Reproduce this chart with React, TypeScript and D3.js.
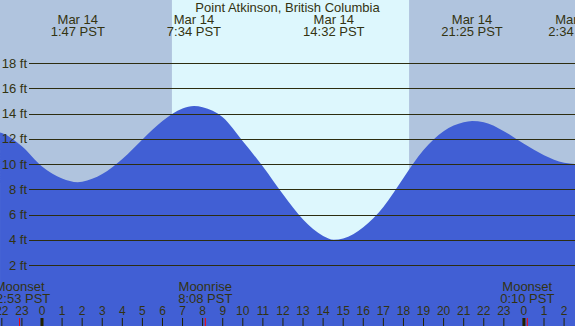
import React from "react";
import * as d3 from "d3";

const W = 575;
const H = 326;

const title = "Point Atkinson, British Columbia";

// tide heights (hours after Mar 14 00:00 PST, feet)
const tideHours = [-2.09, -2, -1, 0, 1, 1.78, 2, 3, 4, 5, 6, 7, 7.57, 8, 9, 10, 11, 12, 13, 14, 14.53, 15, 16, 17, 18, 19, 20, 21, 21.42, 22, 23, 24, 25, 26, 26.57];
const tideFeet = [12.5, 12.45, 11.4, 9.8, 8.85, 8.56, 8.6, 9.2, 10.4, 11.95, 13.4, 14.4, 14.6, 14.5, 13.7, 11.8, 9.8, 7.6, 5.6, 4.3, 4.0, 4.1, 5.0, 6.6, 8.9, 11.1, 12.6, 13.3, 13.4, 13.3, 12.6, 11.6, 10.7, 10.1, 10.0];

// tide extremes labels
const extremeHours = [1.783, 7.567, 14.533, 21.417, 26.567];
const extremeDates = ["Mar 14", "Mar 14", "Mar 14", "Mar 14", "Mar 15"];
const extremeTimes = ["1:47 PST", "7:34 PST", "14:32 PST", "21:25 PST", "2:34 PST"];

// daylight
const sunriseHour = 6.47;
const sunsetHour = 18.28;

// moon events
const moonHours = [-1.117, 8.133, 24.167];
const moonNames = ["Moonset", "Moonrise", "Moonset"];
const moonTimes = ["22:53 PST", "8:08 PST", "0:10 PST"];

const feetTicks = [2, 4, 6, 8, 10, 12, 14, 16, 18];
const hourTicks = d3.range(-2, 27);

const FONT = "'Liberation Sans', Arial, sans-serif";
const TEXT = "#333311";

export default function App() {
  React.useEffect(() => {
    document.body.style.margin = "0";
  }, []);

  const x = d3.scaleLinear().domain([-42 / 20.08, (W - 42) / 20.08]).range([0, W]);
  const y = d3.scaleLinear().domain([0, 18]).range([290.25, 63.0]);

  const pts: [number, number][] = tideHours.map((h, i) => [h, tideFeet[i]]);
  const area = d3
    .area<[number, number]>()
    .x((d) => x(d[0]))
    .y0(H)
    .y1((d) => y(d[1]))
    .curve(d3.curveMonotoneX);

  const hourLabel = (h: number) => String(((h % 24) + 24) % 24);

  return (
    <svg
      width={W}
      height={H}
      style={{ position: "absolute", left: 0, top: 0, display: "block" }}
      fontFamily={FONT}
    >
      <rect x={0} y={0} width={W} height={H} fill="#b0c4de" />
      <rect x={x(sunriseHour)} y={0} width={x(sunsetHour) - x(sunriseHour)} height={H} fill="#ddf7fd" />
      <path d={area(pts) || ""} fill="#415fd4" />

      {feetTicks.map((f) => (
        <g key={f}>
          <line x1={29} x2={W} y1={Math.round(y(f)) + 0.5} y2={Math.round(y(f)) + 0.5} stroke="#2d2d10" strokeWidth={1.2} />
          <text x={27} y={y(f) + 4.5} textAnchor="end" fontSize={13} fill={TEXT}>
            {f} ft
          </text>
        </g>
      ))}

      <text x={W / 2} y={12} textAnchor="middle" fontSize={13} fill={TEXT}>
        {title}
      </text>

      {extremeHours.map((h, i) => (
        <g key={i}>
          <text x={x(h)} y={24} textAnchor="middle" fontSize={13} fill={TEXT}>
            {extremeDates[i]}
          </text>
          <text x={x(h)} y={36} textAnchor="middle" fontSize={13} fill={TEXT}>
            {extremeTimes[i]}
          </text>
        </g>
      ))}

      {moonHours.map((h, i) => (
        <g key={i}>
          <text x={x(h)} y={291} textAnchor="middle" fontSize={13} fill={TEXT}>
            {moonNames[i]}
          </text>
          <text x={x(h)} y={303} textAnchor="middle" fontSize={13} fill={TEXT}>
            {moonTimes[i]}
          </text>
          <line x1={x(h)} x2={x(h)} y1={318} y2={H} stroke="#ff0000" strokeWidth={1} />
        </g>
      ))}

      {hourTicks.map((h) => {
        const midnight = h % 24 === 0;
        return (
          <g key={h}>
            <text x={x(h)} y={315} textAnchor="middle" fontSize={12} fill={TEXT}>
              {hourLabel(h)}
            </text>
            <line
              x1={x(h)}
              x2={x(h)}
              y1={318}
              y2={H}
              stroke="#222200"
              strokeWidth={midnight ? 3 : 1}
            />
          </g>
        );
      })}
    </svg>
  );
}
